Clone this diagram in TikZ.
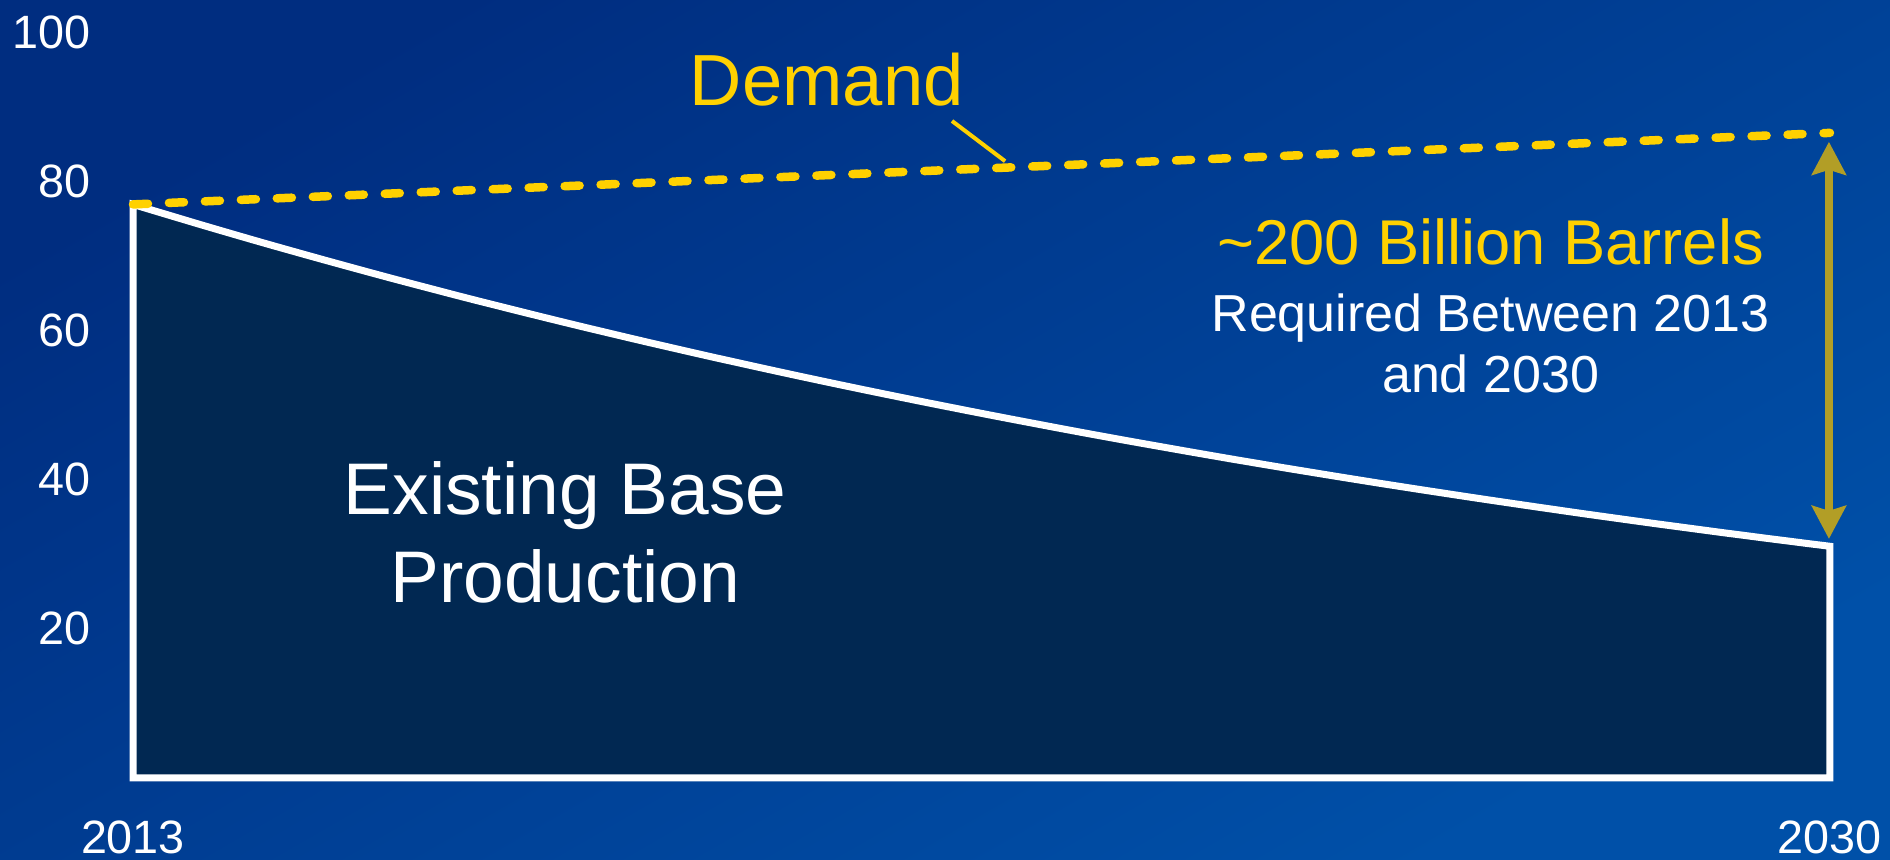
\documentclass[tikz,border=0pt]{standalone}
\usepackage{fontspec}
\setmainfont{Liberation Sans}
\usetikzlibrary{arrows.meta}
\definecolor{slidetop}{RGB}{0,45,128}
\definecolor{slidebot}{RGB}{0,80,168}
\definecolor{basefill}{RGB}{1,40,82}
\definecolor{demandgold}{RGB}{255,209,0}
\definecolor{gapolive}{RGB}{178,158,38}

\begin{document}
\begin{tikzpicture}[
    axlabel/.style={text=white, inner sep=0pt, font=\fontsize{13.3}{16}\selectfont},
    prodline/.style={draw=white, line width=0.07cm, fill=basefill, line join=miter},
    demandline/.style={demandgold, line width=0.085cm, line cap=round, dash pattern=on 0.15cm off 0.21cm},
    pointer/.style={demandgold, line width=0.04cm},
    gaparrow/.style={{Stealth[length=0.33cm, width=0.34cm, inset=0.05cm]}-{Stealth[length=0.33cm, width=0.34cm, inset=0.05cm]}, gapolive, line width=0.08cm}]
  \shade[top color=slidetop, bottom color=slidebot, shading angle=30] (0,0) rectangle (18.9,8.6);
  \useasboundingbox (0,0) rectangle (18.9,8.6);
  \begin{scope}[shift={(1.33,0.82)}, x=0.9982cm, y=0.0745cm]
    \draw[prodline] (0,0) -- (0,77) -- plot[domain=0:17, samples=80] (\x, {77*exp(-0.05333*\x)}) -- (17,0) -- cycle;
    \draw[demandline] (0,77) -- (17,86.6);
    \foreach \v in {20,40,...,100}
      \node[axlabel, anchor=base east] (y\v) at (-0.42,\v-2.1) {\v};
    \node[axlabel, anchor=base] (x2013) at (0,-10.1) {2013};
    \node[axlabel, anchor=base] (x2030) at (17,-10.1) {2030};
    \node[text=demandgold, inner sep=0pt, anchor=base, font=\fontsize{20.6}{24}\selectfont] (dmd) at (6.95,90.3) {Demand};
    \coordinate (dmdfrom) at (8.205,88.2);
    \coordinate (dmdto) at (8.737,82.8);
    \draw[pointer] (dmdfrom) -- (dmdto);
    \node[text=white, inner sep=0pt, anchor=base, align=center, font=\fontsize{20.8}{25.3}\selectfont] (base) at (4.33,23.5) {Existing Base\\Production};
    \node[text=demandgold, inner sep=0pt, anchor=base, font=\fontsize{18}{21}\selectfont] (gap) at (13.6,68.9) {\textasciitilde200 Billion Barrels};
    \node[text=white, inner sep=0pt, anchor=base, align=center, font=\fontsize{14.8}{17.4}\selectfont] (req) at (13.6,51.7) {Required Between 2013\\and 2030};
    \coordinate (gaptop) at (16.99,85.4);
    \coordinate (gapbot) at (16.99,32.1);
    \draw[gaparrow] (gapbot) -- (gaptop);
  \end{scope}
\end{tikzpicture}
\end{document}
